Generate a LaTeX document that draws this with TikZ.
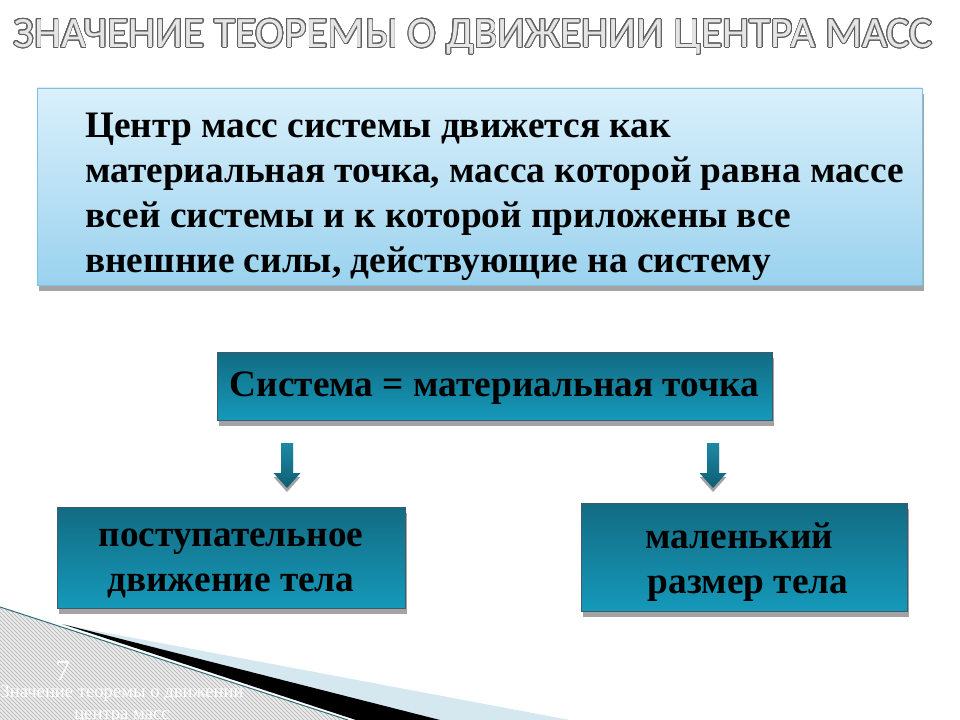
\documentclass[tikz,border=0pt]{standalone}
\usepackage{fontspec}
\setmainfont{Liberation Serif}[BoldFont={Liberation Serif Bold}]
\newfontfamily\titlefont{Carlito}
\usepackage[copies]{contour}
\usetikzlibrary{shadows,patterns}
\definecolor{skytop}{HTML}{DAF0FB}
\definecolor{skybot}{HTML}{9AD2EE}
\definecolor{skyline}{HTML}{7CC2E2}
\definecolor{tealtop}{HTML}{136B82}
\definecolor{tealbot}{HTML}{1599BA}
\definecolor{tealline}{HTML}{3E5A6E}
\definecolor{arrowtop}{HTML}{1F88A3}
\definecolor{arrowbot}{HTML}{0E5E74}
\definecolor{shadowgray}{HTML}{A3A3A3}
\definecolor{hatchbg}{HTML}{EAEAEA}
\definecolor{stripeblue}{HTML}{D6E8EF}
\definecolor{edgeteal}{HTML}{2F6F7A}
\def\px{0.75pt}
\tikzset{
  boxshadow/.style={drop shadow={shadow xshift=2*\px,shadow yshift=-6*\px,fill=shadowgray,opacity=1}},
  skybox/.style={draw=skyline,top color=skytop,bottom color=skybot,boxshadow,inner sep=0},
  tealbox/.style={draw=tealline,top color=tealtop,bottom color=tealbot,boxshadow,inner sep=0},
  boxtext/.style={inner sep=0,align=center,font=\bfseries\fontsize{28}{33.75}\selectfont},
  pics/downarrow/.style={code={
    \shade[top color=arrowtop,bottom color=arrowbot,
      drop shadow={shadow xshift=0pt,shadow yshift=-4*\px,fill=shadowgray,opacity=1}]
      (-6,0) -- (6,0) -- (6,30) -- (13.5,30) -- (0,45) -- (-13.5,30) -- (-6,30) -- cycle;
  }}
}
\contourlength{0.6pt}
\contournumber{32}
\begin{document}
\begin{tikzpicture}[x=1*\px,y=-1*\px]
	\useasboundingbox (0,0) rectangle (960,720);
	% title
	\node (title) at (473,37) {\titlefont\fontsize{32.5}{36}\selectfont\contour{gray!75!black}{\textcolor{gray!20}{ЗНАЧЕНИЕ ТЕОРЕМЫ О ДВИЖЕНИИ ЦЕНТРА МАСС}}};
	% theorem box
	\node[skybox,minimum width=885*\px,minimum height=197*\px] (thm) at (479.5,186.5) {};
	\node[anchor=north west,inner sep=0,align=left,font=\bfseries\fontsize{28}{33.75}\selectfont] (thmtext) at (85,113)
		{Центр масс системы движется как\\
		 материальная точка, масса которой равна массе\\
		 всей системы и к которой приложены все\\
		 внешние силы, действующие на систему};
	% equality box
	\node[tealbox,minimum width=555*\px,minimum height=68*\px] (eq) at (494.5,386) {};
	\node[boxtext] (eqtext) at ([yshift=-1.5pt]eq.center) {Система = материальная точка};
	% consequences
	\node[tealbox,minimum width=348*\px,minimum height=101*\px] (trans) at (231,557.5) {};
	\node[boxtext] (transtext) at ([yshift=-4.5pt]trans.center) {поступательное\\движение тела};
	\node[tealbox,minimum width=326*\px,minimum height=108*\px] (small) at (744,557) {};
	\node[boxtext] (smalltext) at ([yshift=-3.5pt]small.center) {маленький\hspace*{6.75pt}\\\hspace*{6pt}размер тела};
	\pic at (287,443) {downarrow};
	\pic at (713,443) {downarrow};
	% corner decoration
	\fill[hatchbg] (0,607) -- (348,720) -- (0,720) -- cycle;
	\fill[pattern=north west lines,pattern color=gray!60] (0,607) -- (348,720) -- (0,720) -- cycle;
	\draw[edgeteal,line width=1*\px] (0,607) -- (348,720);
	\fill[stripeblue] (70,626) -- (570,720) -- (440,720) -- cycle;
	\fill[black] (62,624) -- (440,720) -- (356,720) -- cycle;
	\node[white,inner sep=0,font=\fontsize{22}{22}\selectfont] (num) at (63,671) {7};
	\node[white,align=center,inner sep=0,anchor=base,font=\fontsize{14}{16.5}\selectfont] (foot) at (122,719)
		{Значение теоремы о движении\\центра масс};
\end{tikzpicture}
\end{document}
